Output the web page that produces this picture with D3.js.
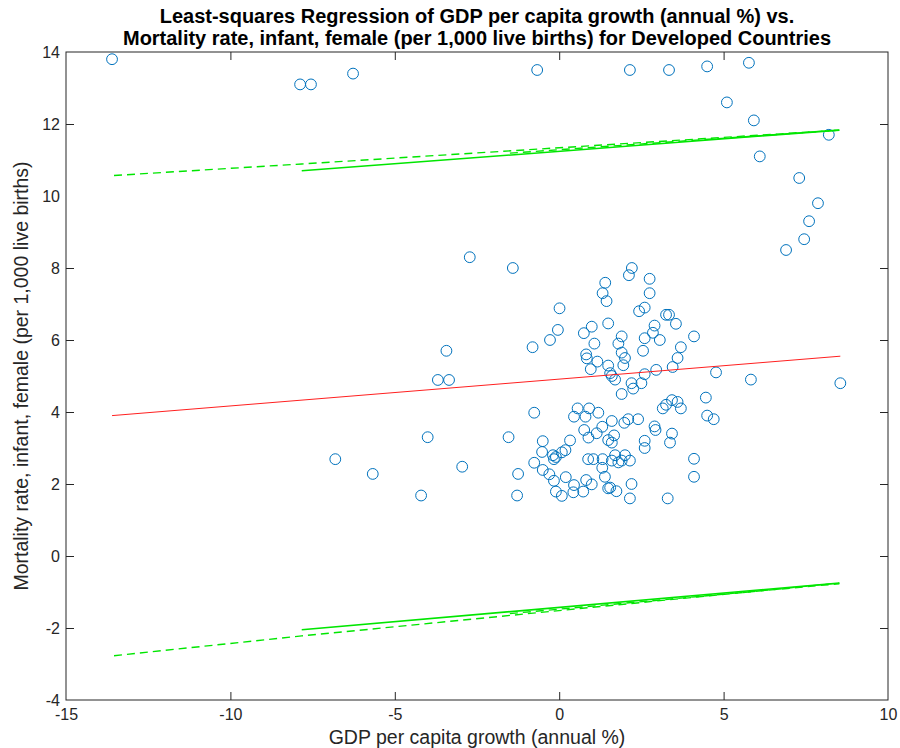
<!DOCTYPE html>
<html>
<head>
<meta charset="utf-8">
<script src="https://cdn.jsdelivr.net/npm/d3@7"></script>
<style>
  body { margin: 0; background: #fff; }
  text { font-family: "Liberation Sans", Arial, Helvetica, sans-serif; }
</style>
</head>
<body>
<div id="chart"></div>
<script>
// scatter points: GDP growth (x) vs infant female mortality (y)
var gdpGrowth = [
  -13.6, -7.88, -7.55, -6.27, -0.67, 2.15, 3.34, 4.5, 5.77, 5.1, 5.92, 6.1, 8.2, 7.3, 7.87, 7.6, 7.45, 6.9,
  -2.72, -1.41, 0.01, -0.04, -0.28, -0.81, -3.43, -3.69, -3.35, -0.76, -4.0, -1.54, -6.81, -5.67, -2.95, -1.25, -4.2, -1.28,
  1.40, 1.32, 1.44, 1.49, 0.99, 0.75, 1.07, 0.82, 0.84, 1.16, 0.96, 1.49, 1.55,
  0.56, 0.91, 0.45, 0.8, 1.19, 1.31, 0.76, 1.14, 0.89, 1.49, 0.33, 0.19, 0.08, -0.5, -0.52, -0.19, -0.1, -0.16, 0.88, 1.04, 1.32,
  -0.76, 1.31, 1.39, -0.5, -0.3, -0.16, 0.2, 0.45, 0.82, 0.99, -0.1, 0.08, 0.43, 0.73, 1.49,
  2.21, 2.12, 2.75, 2.75, 3.25, 3.34, 2.43, 2.6, 3.55, 2.9, 2.85, 4.1, 3.7, 3.06, 2.6, 1.9, 1.8, 1.9, 2.0, 1.95, 2.55,
  3.6, 3.45, 2.95, 2.6, 2.5, 2.2, 2.25, 1.7, 1.6, 1.9, 4.77, 5.83, 8.55, 4.46, 4.5, 4.7, 3.43, 3.6, 3.7, 3.25, 3.15,
  2.4, 2.1, 1.98, 1.6, 1.67, 1.6, 2.9, 2.93, 3.43, 3.37, 2.6, 2.6, 1.7, 1.6, 2.0, 1.9, 2.15, 1.8, 2.2, 1.74, 1.55, 2.15, 3.3, 4.1, 4.1
];
var mortality = [
  13.8, 13.1, 13.1, 13.4, 13.5, 13.5, 13.5, 13.6, 13.7, 12.6, 12.1, 11.1, 11.7, 10.5, 9.8, 9.3, 8.8, 8.5,
  8.3, 8.0, 6.88, 6.28, 6.0, 5.8, 5.7, 4.89, 4.89, 3.98, 3.3, 3.3, 2.69, 2.28, 2.48, 2.28, 1.68, 1.68,
  7.59, 7.3, 7.08, 6.46, 6.37, 6.19, 5.9, 5.6, 5.49, 5.4, 5.19, 5.29, 5.08,
  4.1, 4.1, 3.87, 3.87, 3.98, 3.59, 3.5, 3.41, 3.29, 3.22, 3.21, 2.94, 2.88, 3.19, 2.89, 2.8, 2.75, 2.69, 2.69, 2.69, 2.69,
  2.59, 2.45, 2.2, 2.39, 2.27, 2.09, 2.19, 1.97, 2.11, 1.99, 1.79, 1.67, 1.77, 1.79, 1.88,
  8.0, 7.8, 7.7, 7.3, 6.7, 6.7, 6.8, 6.9, 6.45, 6.4, 6.2, 6.1, 5.8, 6.0, 6.05, 6.1, 5.9, 5.65, 5.5, 5.3, 5.7,
  5.5, 5.25, 5.17, 5.05, 4.8, 4.8, 4.65, 4.9, 5.0, 4.5, 5.1, 4.9, 4.8, 4.4, 3.9, 3.8, 4.33, 4.28, 4.1, 4.2, 4.1,
  3.8, 3.8, 3.7, 3.75, 3.35, 3.15, 3.6, 3.5, 3.4, 3.15, 3.2, 3.0, 2.8, 2.65, 2.8, 2.65, 2.65, 2.6, 2.0, 1.8, 1.9, 1.6, 1.6, 2.7, 2.2
];

// fitted line and band lines
var fitX = [-13.6, 8.55];
var fitY = [3.9, 5.55];
var upperDashX = [-13.54, -7.83, 8.52], upperDashY = [10.57, 10.89, 11.83];
var upperSolidX = [-7.83, 8.52], upperSolidY = [10.70, 11.83];
var upperInnerX = [-1.5, 8.52], upperInnerY = [11.19, 11.83];
var lowerDashX = [-13.54, -7.83, 8.52], lowerDashY = [-2.77, -2.22, -0.75];
var lowerSolidX = [-7.83, 8.52], lowerSolidY = [-2.05, -0.75];
var lowerInnerX = [-1.5, 8.52], lowerInnerY = [-1.6, -0.77];

var xTicks = [-15, -10, -5, 0, 5, 10];
var yTicks = [-4, -2, 0, 2, 4, 6, 8, 10, 12, 14];

var titleLines = [
  "Least-squares Regression of GDP per capita growth (annual %) vs.",
  "Mortality rate, infant, female (per 1,000 live births) for Developed Countries"
];

var width = 900, height = 748;
var margin = {top: 52, right: 12, bottom: 48, left: 66};

var svg = d3.select("#chart").append("svg")
  .attr("width", width)
  .attr("height", height);

var x = d3.scaleLinear().domain([-15, 10]).range([margin.left, width - margin.right]);
var y = d3.scaleLinear().domain([-4, 14]).range([height - margin.bottom, margin.top]);

var axisColor = "#262626";
var tickLen = 8;
var plain = d => String(d);   // keep ascii hyphen for negatives

// axes (matlab style: ticks inside, box)
svg.append("g")
  .attr("transform", "translate(0," + y(-4) + ")")
  .call(d3.axisBottom(x).tickValues(xTicks).tickFormat(plain).tickSizeInner(-tickLen).tickSizeOuter(0).tickPadding(9))
  .call(g => g.select(".domain").remove());
svg.append("g")
  .attr("transform", "translate(0," + y(14) + ")")
  .call(d3.axisTop(x).tickValues(xTicks).tickSizeInner(-tickLen).tickSizeOuter(0).tickFormat(""))
  .call(g => g.select(".domain").remove());
svg.append("g")
  .attr("transform", "translate(" + x(-15) + ",0)")
  .call(d3.axisLeft(y).tickValues(yTicks).tickFormat(plain).tickSizeInner(-tickLen).tickSizeOuter(0).tickPadding(6))
  .call(g => g.select(".domain").remove());
svg.append("g")
  .attr("transform", "translate(" + x(10) + ",0)")
  .call(d3.axisRight(y).tickValues(yTicks).tickSizeInner(-tickLen).tickSizeOuter(0).tickFormat(""))
  .call(g => g.select(".domain").remove());

svg.selectAll(".tick line").attr("stroke", axisColor);
svg.selectAll(".tick text")
  .attr("fill", "#262626")
  .style("font-size", "16px")
  .style("font-family", "'Liberation Sans', Arial, sans-serif");

// no tick marks on the box corners
svg.selectAll(".tick").filter(d => d === -15 || d === 10 || d === -4 || d === 14).select("line").remove();

svg.append("rect")
  .attr("x", x(-15)).attr("y", y(14))
  .attr("width", x(10) - x(-15)).attr("height", y(-4) - y(14))
  .attr("fill", "none")
  .attr("stroke", axisColor)
  .attr("stroke-width", 1);

var line = d3.line().x(d => x(d[0])).y(d => y(d[1]));
function pts(xs, ys) { return xs.map((v, i) => [v, ys[i]]); }

// scatter
svg.append("g")
  .selectAll("circle")
  .data(pts(gdpGrowth, mortality))
  .join("circle")
  .attr("cx", d => x(d[0]))
  .attr("cy", d => y(d[1]))
  .attr("r", 5.4)
  .attr("fill", "none")
  .attr("stroke", "#0072BD")
  .attr("stroke-width", 1);

// regression line
svg.append("path")
  .attr("d", line(pts(fitX, fitY)))
  .attr("fill", "none")
  .attr("stroke", "#ff2020")
  .attr("stroke-width", 1);

// bands
var green = "#00e600";
[[upperDashX, upperDashY], [lowerDashX, lowerDashY], [upperInnerX, upperInnerY], [lowerInnerX, lowerInnerY]].forEach(function (b) {
  svg.append("path")
    .attr("d", line(pts(b[0], b[1])))
    .attr("fill", "none")
    .attr("stroke", green)
    .attr("stroke-width", 1.4)
    .attr("stroke-dasharray", "8,5");
});
[[upperSolidX, upperSolidY], [lowerSolidX, lowerSolidY]].forEach(function (b) {
  svg.append("path")
    .attr("d", line(pts(b[0], b[1])))
    .attr("fill", "none")
    .attr("stroke", green)
    .attr("stroke-width", 1.6);
});

// title: condensed bold, squeezed to the reference width
var cx = (x(-15) + x(10)) / 2;
var titleText = svg.selectAll(".title")
  .data(titleLines)
  .join("text")
  .attr("class", "title")
  .attr("x", cx)
  .attr("y", (d, i) => 23 + i * 22)
  .attr("text-anchor", "middle")
  .attr("font-weight", "bold")
  .style("font-size", "19.5px")
  .attr("fill", "#000")
  .text(d => d);
var squeeze = 708 / titleText.nodes()[1].getComputedTextLength();
titleText.each(function () {
  var w = this.getComputedTextLength();
  d3.select(this).attr("textLength", w * squeeze).attr("lengthAdjust", "spacingAndGlyphs");
});

svg.append("text")
  .attr("x", cx)
  .attr("y", 744)
  .attr("text-anchor", "middle")
  .style("font-size", "19.5px")
  .attr("fill", "#262626")
  .text("GDP per capita growth (annual %)");

svg.append("text")
  .attr("transform", "translate(28," + (y(-4) + y(14)) / 2 + ") rotate(-90)")
  .attr("text-anchor", "middle")
  .style("font-size", "19.5px")
  .attr("fill", "#262626")
  .text("Mortality rate, infant, female (per 1,000 live births)");
</script>
</body>
</html>
